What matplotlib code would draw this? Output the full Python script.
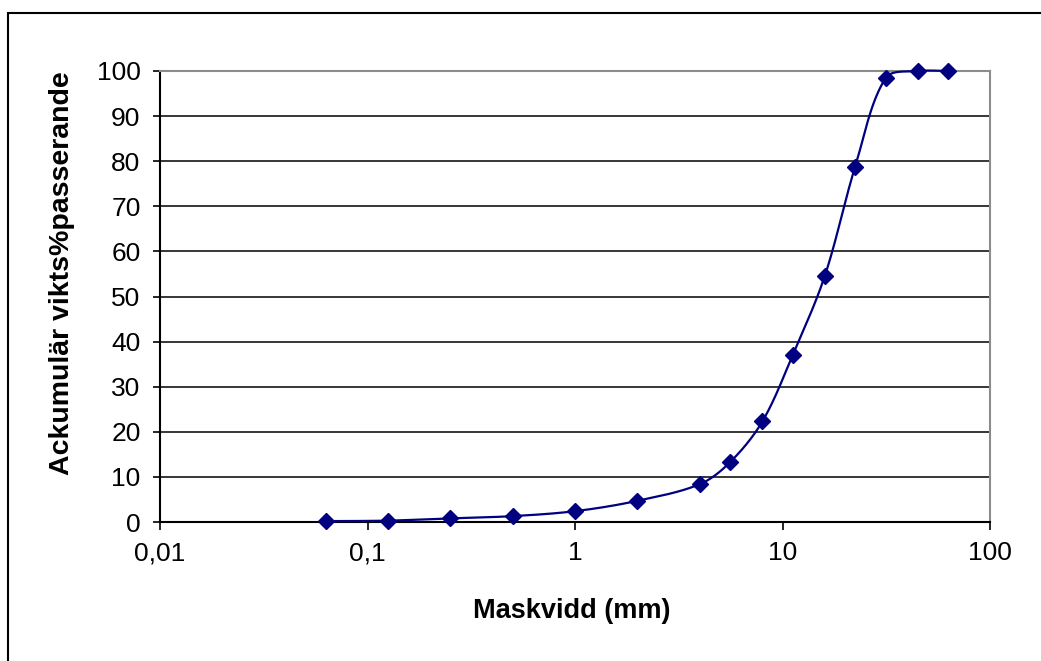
import numpy as np
import matplotlib
matplotlib.use("Agg")
import matplotlib.pyplot as plt
from matplotlib.patches import Rectangle

plt.rcParams['font.family'] = ['Liberation Sans', 'DejaVu Sans']

# sieve sizes (mm) and cumulative weight % passing
maskvidd = [0.063, 0.125, 0.25, 0.5, 1, 2, 4, 5.6, 8, 11.2, 16, 22.4, 31.5, 45, 63]
passerande = [0.2, 0.3, 0.8, 1.3, 2.4, 4.7, 8.4, 13.3, 22.3, 37.0, 54.6, 78.8, 98.5, 100, 100]

x_ticks = [0.01, 0.1, 1, 10, 100]
x_tick_labels = ['0,01', '0,1', '1', '10', '100']
y_ticks = list(range(0, 101, 10))

navy = '#000080'


def smooth(ax, xs, ys, n=40):
    # Excel-like smoothed line: cubic Bezier, tangents scaled by segment lengths
    # (worked out in display space, then mapped back to data)
    pts = ax.transData.transform(np.column_stack([xs, ys]))
    pad = np.vstack([pts[0], pts, pts[-1]])
    t = np.linspace(0, 1, n)[:, None]
    segs = []
    for i in range(1, len(pad) - 2):
        p0, p1, p2, p3 = pad[i - 1], pad[i], pad[i + 1], pad[i + 2]
        d01 = np.hypot(*(p1 - p0))
        d12 = np.hypot(*(p2 - p1))
        d23 = np.hypot(*(p3 - p2))
        c1 = p1 + (p2 - p0) * (d12 / max(d01 + d12, 1e-9)) / 3
        c2 = p2 - (p3 - p1) * (d12 / max(d12 + d23, 1e-9)) / 3
        segs.append((1 - t) ** 3 * p1 + 3 * (1 - t) ** 2 * t * c1
                    + 3 * (1 - t) * t ** 2 * c2 + t ** 3 * p2)
    s = ax.transData.inverted().transform(np.vstack(segs))
    return s[:, 0], s[:, 1]


W, H = 1041, 661
fig = plt.figure(figsize=(W / 100, H / 100), dpi=100)
fig.patches.append(Rectangle((8 / W, -0.1), 1.2, (H - 13) / H + 0.1,
                             transform=fig.transFigure, fill=False,
                             ec='black', lw=1.5))

ax = fig.add_axes([160 / W, 139 / H, 830 / W, 451 / H])
ax.set_xscale('log')
ax.set_xlim(0.01, 100)
ax.set_ylim(0, 100)

sx, sy = smooth(ax, maskvidd, passerande)
ax.plot(sx, sy, color=navy, lw=1.6, zorder=3, clip_on=False)
ax.plot(maskvidd, passerande, ls='none', marker='D', ms=8.5, color=navy,
        zorder=4, clip_on=False)

ax.set_yticks(y_ticks)
ax.set_yticklabels([str(v) for v in y_ticks])
ax.set_xticks(x_ticks)
ax.set_xticklabels(x_tick_labels)
ax.xaxis.set_minor_locator(matplotlib.ticker.NullLocator())

ax.grid(axis='y', color='black', lw=1.1)
ax.set_axisbelow(True)

for side in ['left', 'bottom']:
    ax.spines[side].set_color('black')
    ax.spines[side].set_linewidth(1.5)
for side in ['top', 'right']:
    ax.spines[side].set_color('#8c8c8c')
    ax.spines[side].set_linewidth(1.5)

ax.tick_params(axis='y', direction='out', length=5, width=1.2, pad=9,
               labelsize=19, colors='black')
ax.tick_params(axis='x', direction='out', length=6, width=1.2, pad=8,
               labelsize=19, colors='black')

ax.set_xlabel('Maskvidd (mm)', fontsize=19.5, fontweight='bold', va='center')
ax.set_ylabel('Ackumulär vikts%passerande', fontsize=20.5, fontweight='bold',
              va='center')
ax.xaxis.set_label_coords((572 - 160) / 830, -(611 - 522) / 451)
ax.yaxis.set_label_coords((62 - 160) / 830, (522 - 273) / 451)

fig.savefig('out.png', dpi=100)
